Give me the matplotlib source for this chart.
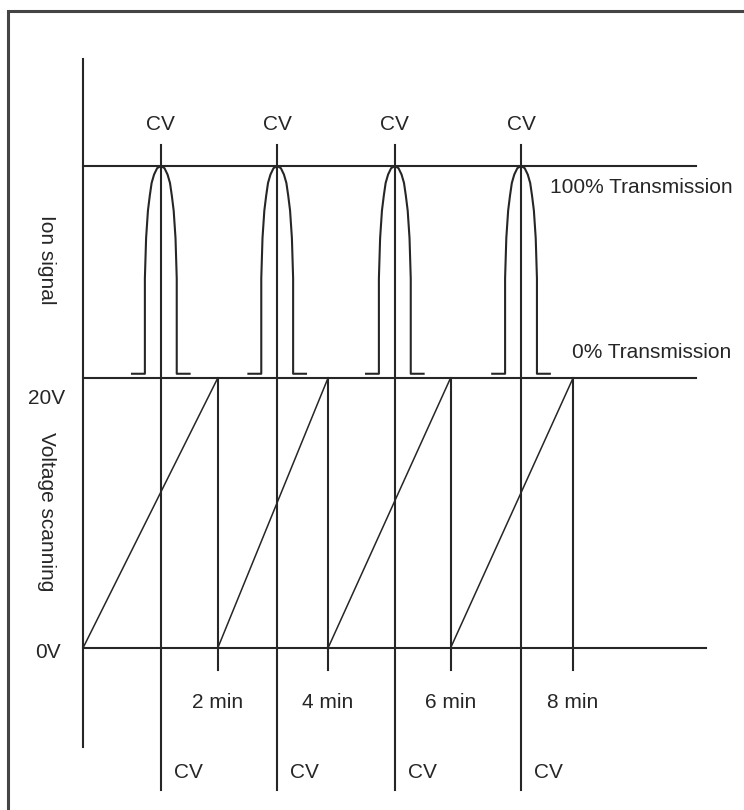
"""
CV scanning schematic: ion signal peaks above a saw-tooth voltage ramp.
"""
import matplotlib
matplotlib.use("Agg")
import matplotlib.pyplot as plt
from matplotlib.patches import Rectangle

# --- data ------------------------------------------------------------------
# time axis in minutes, voltage in V, ion signal in % transmission
ramp_ends = [2.2, 4.0, 6.0, 8.0]            # where each 0 -> 20 V sweep resets
time_labels = ["2 min", "4 min", "6 min", "8 min"]
cv_times = [1.27, 3.17, 5.09, 7.15]         # compensation voltage hit during each sweep
v_low, v_high = 0, 20

# left half of one transmission peak (offset from CV in min, signal in %)
peak_dx = [-0.47, -0.26, -0.26, -0.24, -0.21, -0.18, -0.15, -0.11, -0.06, 0.0]
peak_pct = [2, 2, 47, 66, 79, 86, 92, 96, 99, 100]

# the ion-signal panel sits on top of the voltage panel
SIG_BASE = 20.0      # 0 % transmission drawn at the 20 V level
SIG_SCALE = 0.157    # 100 % -> 15.7 V units of height


def sig(p):
    return SIG_BASE + p * SIG_SCALE


plt.rcParams['font.family'] = ['Liberation Sans', 'DejaVu Sans']
ink = "#262626"
fs = 15

fig = plt.figure(figsize=(7.44, 8.10), dpi=100)
ax = fig.add_axes([0, 0, 1, 1])
ax.set_xlim(-1.355, 10.79)
ax.set_ylim(-12.0, 48.0)
ax.axis("off")

# outer frame (only top and left edges fall inside the picture)
ax.add_patch(Rectangle((8 / 744, -0.1), 1.2, 1.1 - 11 / 810, transform=ax.transAxes,
                       fill=False, ec="#444444", lw=2.2, clip_on=False))

lw = 1.5
# left axis and the three horizontal reference lines
ax.plot([0, 0], [-7.33, 43.6], color=ink, lw=lw)
ax.plot([0, 10.0], [sig(100), sig(100)], color=ink, lw=lw)
ax.plot([0, 10.0], [sig(0), sig(0)], color=ink, lw=lw)
ax.plot([0, 10.17], [v_low, v_low], color=ink, lw=lw)

# saw-tooth voltage ramps
starts = [0] + ramp_ends[:-1]
for t0, t1 in zip(starts, ramp_ends):
    ax.plot([t0, t1], [v_low, v_high], color=ink, lw=1.1)
    ax.plot([t1, t1], [v_high, -1.6], color=ink, lw=lw)

# CV lines with their transmission peaks
for c in cv_times:
    ax.plot([c, c], [-10.5, sig(110)], color=ink, lw=lw)
    xs = [c + d for d in peak_dx] + [c - d for d in reversed(peak_dx)]
    ys = [sig(p) for p in peak_pct] + [sig(p) for p in reversed(peak_pct)]
    ax.plot(xs, ys, color=ink, lw=lw)
    ax.text(c, sig(119.5), "CV", ha="center", va="center", fontsize=fs, color=ink)
    ax.text(c + 0.21, -9.2, "CV", ha="left", va="center", fontsize=fs, color=ink)

for t, lab in zip(ramp_ends, time_labels):
    ax.text(t, -4.0, lab, ha="center", va="center", fontsize=fs, color=ink)

ax.text(7.62, sig(90), "100% Transmission", ha="left", va="center", fontsize=fs, color=ink)
ax.text(7.98, sig(12), "0% Transmission", ha="left", va="center", fontsize=fs, color=ink)

ax.text(-0.59, sig(56), "Ion signal", rotation=-90, ha="center", va="center",
        fontsize=fs, color=ink)
ax.text(-0.59, 18.5, "20V", ha="center", va="center", fontsize=fs, color=ink)
ax.text(-0.59, 10.1, "Voltage scanning", rotation=-90, ha="center", va="center",
        fontsize=fs, color=ink)
ax.text(-0.57, -0.3, "0V", ha="center", va="center", fontsize=fs, color=ink)

fig.savefig("out.png", dpi=100, facecolor="white")
